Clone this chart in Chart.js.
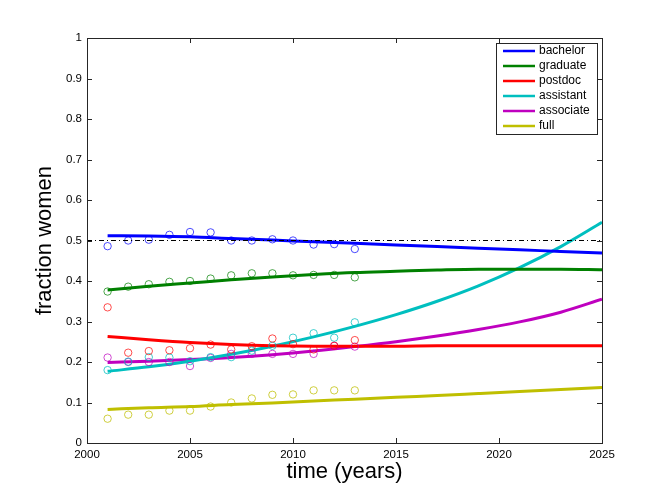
<!DOCTYPE html>
<html>
<head>
<meta charset="utf-8">
<script src="https://cdn.jsdelivr.net/npm/chart.js@4"></script>
<style>
  html, body { margin: 0; padding: 0; background: #fff; }
  canvas { display: block; }
</style>
</head>
<body>
<canvas id="fracChart" width="664" height="499"></canvas>
<script>
// observed years and fractions (circles)
const years = [2001, 2002, 2003, 2004, 2005, 2006, 2007, 2008, 2009, 2010, 2011, 2012, 2013];
const bachelorObs  = [0.486, 0.500, 0.502, 0.514, 0.521, 0.520, 0.500, 0.500, 0.503, 0.500, 0.490, 0.491, 0.479];
const graduateObs  = [0.374, 0.386, 0.392, 0.398, 0.400, 0.406, 0.414, 0.419, 0.419, 0.414, 0.415, 0.415, 0.409];
const postdocObs   = [0.335, 0.223, 0.227, 0.229, 0.234, 0.243, 0.231, 0.239, 0.258, 0.244, 0.231, 0.240, 0.254];
const assistantObs = [0.180, 0.201, 0.212, 0.211, 0.202, 0.212, 0.212, 0.228, 0.240, 0.260, 0.271, 0.260, 0.298];
const associateObs = [0.211, 0.200, 0.200, 0.200, 0.190, 0.210, 0.220, 0.220, 0.220, 0.220, 0.220, 0.240, 0.238];
const fullObs      = [0.060, 0.070, 0.070, 0.080, 0.080, 0.090, 0.100, 0.110, 0.119, 0.120, 0.130, 0.130, 0.130];

const fitYears = [2001, 2003, 2005, 2007, 2009, 2011, 2013, 2015, 2017, 2019, 2021, 2023, 2025];
const bachelorFit  = [0.512, 0.511, 0.509, 0.505, 0.501, 0.497, 0.493, 0.489, 0.485, 0.481, 0.477, 0.473, 0.469];
const graduateFit  = [0.378, 0.387, 0.395, 0.403, 0.410, 0.416, 0.421, 0.424, 0.427, 0.429, 0.429, 0.429, 0.428];
const postdocFit   = [0.263, 0.255, 0.248, 0.243, 0.240, 0.239, 0.239, 0.239, 0.240, 0.240, 0.240, 0.240, 0.240];
const assistantFit = [0.177, 0.188, 0.202, 0.219, 0.239, 0.262, 0.288, 0.317, 0.350, 0.388, 0.433, 0.485, 0.545];
const associateFit = [0.199, 0.202, 0.206, 0.211, 0.218, 0.227, 0.238, 0.250, 0.264, 0.280, 0.299, 0.323, 0.355];
const fullFit      = [0.083, 0.087, 0.090, 0.095, 0.099, 0.104, 0.108, 0.113, 0.117, 0.122, 0.127, 0.132, 0.137];

// parity reference line
const refX = [2000, 2025];
const refY = [0.5, 0.5];

const labels = ['bachelor', 'graduate', 'postdoc', 'assistant', 'associate', 'full'];
const colors = ['#0000ff', '#008000', '#ff0000', '#00bfbf', '#bf00bf', '#bfbf00'];
const circleColors = ['rgba(0,0,255,0.7)', 'rgba(0,128,0,0.7)', 'rgba(255,0,0,0.7)',
                      'rgba(0,191,191,0.75)', 'rgba(191,0,191,0.7)', 'rgba(191,191,0,0.75)'];
const obs = [bachelorObs, graduateObs, postdocObs, assistantObs, associateObs, fullObs];
const fits = [bachelorFit, graduateFit, postdocFit, assistantFit, associateFit, fullFit];

const xTicks = [2000, 2005, 2010, 2015, 2020, 2025];
const yTicks = [0, 0.1, 0.2, 0.3, 0.4, 0.5, 0.6, 0.7, 0.8, 0.9, 1];

const pts = (xs, ys) => xs.map((v, i) => ({ x: v, y: ys[i] }));

const datasets = [];
datasets.push({
  label: 'parity',
  data: pts(refX, refY),
  showLine: true,
  borderColor: '#000',
  borderWidth: 1,
  borderDash: [5, 3, 1, 3],
  pointRadius: 0,
  fill: false,
});
labels.forEach((name, k) => {
  datasets.push({
    label: name + ' data',
    data: pts(years, obs[k]),
    showLine: false,
    pointStyle: 'circle',
    pointRadius: 3.7,
    pointBorderWidth: 1,
    pointBackgroundColor: 'rgba(0,0,0,0)',
    pointBorderColor: circleColors[k],
  });
});
labels.forEach((name, k) => {
  datasets.push({
    label: name,
    data: pts(fitYears, fits[k]),
    showLine: true,
    borderColor: colors[k],
    borderWidth: 3,
    pointRadius: 0,
    cubicInterpolationMode: 'monotone',
    fill: false,
  });
});

// box, inward ticks on all four sides, and the legend inside the axes
const frame = {
  id: 'frame',
  afterDraw(chart) {
    const { ctx, chartArea: a, scales: { x, y } } = chart;
    ctx.save();
    ctx.strokeStyle = '#262626';
    ctx.lineWidth = 1;
    ctx.strokeRect(a.left + 0.5, a.top + 0.5, a.right - a.left, a.bottom - a.top);
    ctx.beginPath();
    xTicks.forEach(v => {
      const px = Math.round(x.getPixelForValue(v)) + 0.5;
      ctx.moveTo(px, a.bottom); ctx.lineTo(px, a.bottom - 5);
      ctx.moveTo(px, a.top); ctx.lineTo(px, a.top + 5);
    });
    yTicks.forEach(v => {
      const py = Math.round(y.getPixelForValue(v)) + 0.5;
      ctx.moveTo(a.left, py); ctx.lineTo(a.left + 5, py);
      ctx.moveTo(a.right, py); ctx.lineTo(a.right - 5, py);
    });
    ctx.stroke();

    // legend
    const bx = a.right - 106, by = a.top + 5, bw = 101, bh = 91;
    ctx.fillStyle = '#fff';
    ctx.fillRect(bx, by, bw, bh);
    ctx.strokeRect(bx + 0.5, by + 0.5, bw, bh);
    ctx.font = '12px "Liberation Sans", Arial, sans-serif';
    ctx.textBaseline = 'middle';
    labels.forEach((name, k) => {
      const ly = by + 8 + k * 15;
      ctx.strokeStyle = colors[k];
      ctx.lineWidth = 2.5;
      ctx.beginPath();
      ctx.moveTo(bx + 7, ly); ctx.lineTo(bx + 39, ly);
      ctx.stroke();
      ctx.fillStyle = '#000';
      ctx.fillText(name, bx + 43, ly);
    });
    ctx.restore();
  }
};

const tickFont = { family: '"Liberation Sans", Arial, sans-serif', size: 11.5 };
const titleFont = { family: '"Liberation Sans", Arial, sans-serif', size: 22 };

new Chart(document.getElementById('fracChart'), {
  type: 'scatter',
  data: { datasets },
  options: {
    responsive: false,
    animation: false,
    layout: { padding: { top: 38, right: 62, left: 0, bottom: 0 } },
    plugins: { legend: { display: false }, tooltip: { enabled: false } },
    scales: {
      x: {
        type: 'linear',
        min: 2000, max: 2025,
        afterFit: s => { s.height = 56; },
        afterBuildTicks: s => { s.ticks = xTicks.map(v => ({ value: v })); },
        grid: { display: false, drawTicks: false },
        border: { display: false },
        ticks: { color: '#000', font: tickFont, padding: 5, maxRotation: 0, callback: v => String(v) },
        title: { display: true, text: 'time (years)', color: '#000', font: titleFont, padding: { top: 0, bottom: 14 } },
      },
      y: {
        type: 'linear',
        min: 0, max: 1,
        afterFit: s => { s.width = 87; },
        afterBuildTicks: s => { s.ticks = yTicks.map(v => ({ value: v })); },
        grid: { display: false, drawTicks: false },
        border: { display: false },
        ticks: { color: '#000', font: tickFont, padding: 5, callback: v => String(+v.toFixed(1)) },
        title: { display: true, text: 'fraction women', color: '#000', font: titleFont, padding: { top: 32, bottom: 0 } },
      },
    },
  },
  plugins: [frame],
});
</script>
</body>
</html>
